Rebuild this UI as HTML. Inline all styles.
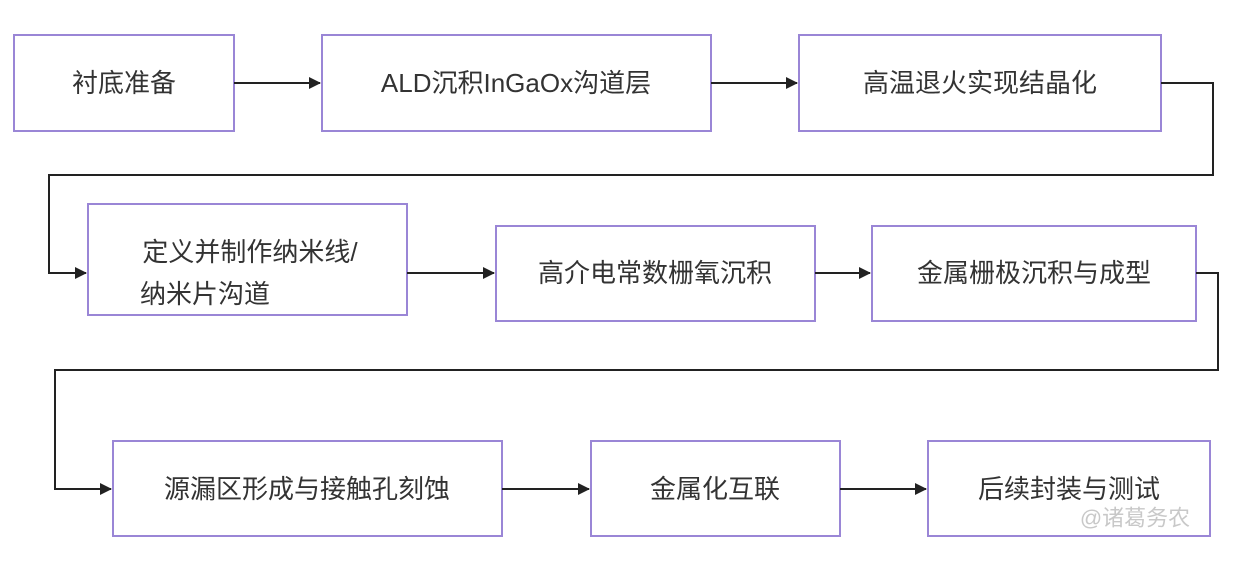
<!DOCTYPE html>
<html><head><meta charset="utf-8"><style>
html,body{margin:0;padding:0;background:#fff;}
svg{display:block}
text{font-family:"Liberation Sans","Noto Sans CJK SC",sans-serif;font-size:26px;fill:#333;text-anchor:middle;dominant-baseline:central}
.b{fill:#fff;stroke:#9a86d6;stroke-width:2}
.l{fill:none;stroke:#222;stroke-width:2}
</style></head><body>
<svg width="1242" height="563" viewBox="0 0 1242 563">
<defs><marker id="a" markerWidth="12" markerHeight="12" refX="11" refY="6" orient="auto" markerUnits="userSpaceOnUse"><path d="M0,0 L12,6 L0,12 z" fill="#222"/></marker></defs>
<rect class="b" x="14" y="35" width="220" height="96"/>
<rect class="b" x="322" y="35" width="389" height="96"/>
<rect class="b" x="799" y="35" width="362" height="96"/>
<rect class="b" x="88" y="204" width="319" height="111"/>
<rect class="b" x="496" y="226" width="319" height="95"/>
<rect class="b" x="872" y="226" width="324" height="95"/>
<rect class="b" x="113" y="441" width="389" height="95"/>
<rect class="b" x="591" y="441" width="249" height="95"/>
<rect class="b" x="928" y="441" width="282" height="95"/>
<path class="l" d="M234,83 H320" marker-end="url(#a)"/>
<path class="l" d="M711,83 H797" marker-end="url(#a)"/>
<path class="l" d="M1161,83 H1213 V175 H49 V273 H86" marker-end="url(#a)"/>
<path class="l" d="M407,273 H494" marker-end="url(#a)"/>
<path class="l" d="M815,273 H870" marker-end="url(#a)"/>
<path class="l" d="M1196,273 H1218 V370 H55 V489 H111" marker-end="url(#a)"/>
<path class="l" d="M502,489 H589" marker-end="url(#a)"/>
<path class="l" d="M840,489 H926" marker-end="url(#a)"/>
<text x="124" y="83">衬底准备</text>
<text x="516" y="83">ALD沉积InGaOx沟道层</text>
<text x="980" y="83">高温退火实现结晶化</text>
<text x="250" y="252">定义并制作纳米线/</text>
<text x="205" y="294">纳米片沟道</text>
<text x="655" y="273">高介电常数栅氧沉积</text>
<text x="1034" y="273">金属栅极沉积与成型</text>
<text x="307" y="489">源漏区形成与接触孔刻蚀</text>
<text x="715" y="489">金属化互联</text>
<text x="1069" y="489">后续封装与测试</text>
<text x="1135" y="518" style="font-size:22px;fill:#bbb;opacity:0.8">@诸葛务农</text>
</svg>
</body></html>
